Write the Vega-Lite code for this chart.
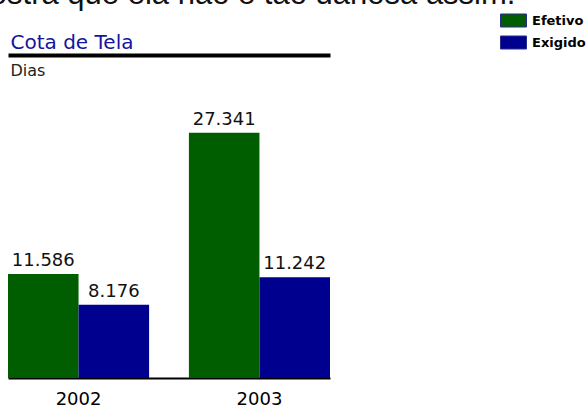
{
  "$schema": "https://vega.github.io/schema/vega-lite/v6.json",
  "width": 322,
  "height": 323,
  "autosize": {"type": "none"},
  "padding": {"left": 8, "top": 55, "right": 256, "bottom": 27},
  "background": "white",
  "title": {
    "text": "mostra que ela não é tão danosa assim.",
    "font": "Liberation Sans",
    "fontSize": 31,
    "fontWeight": "normal",
    "color": "#111111",
    "anchor": "start",
    "frame": "group",
    "baseline": "alphabetic",
    "dx": -44,
    "dy": 32
  },
  "data": {
    "values": [
      {"ano": "2002", "tipo": "Efetivo", "dias": 11586},
      {"ano": "2002", "tipo": "Exigido", "dias": 8176},
      {"ano": "2003", "tipo": "Efetivo", "dias": 27341},
      {"ano": "2003", "tipo": "Exigido", "dias": 11242}
    ]
  },
  "encoding": {
    "x": {
      "field": "ano",
      "type": "nominal",
      "scale": {"paddingInner": 0.22, "paddingOuter": 0}
    },
    "xOffset": {
      "field": "tipo",
      "type": "nominal",
      "scale": {"paddingInner": 0, "paddingOuter": 0}
    },
    "y": {
      "field": "dias",
      "type": "quantitative",
      "scale": {"domain": [0, 36000], "nice": false},
      "axis": {
        "domain": false,
        "ticks": false,
        "labels": false,
        "grid": false,
        "title": "Dias",
        "titleAngle": 0,
        "titleAlign": "left",
        "titleBaseline": "alphabetic",
        "titleX": 2,
        "titleY": 20,
        "titleFont": "DejaVu Sans",
        "titleFontSize": 16,
        "titleFontWeight": "normal",
        "titleColor": "#222222"
      }
    }
  },
  "layer": [
    {
      "mark": {"type": "bar"},
      "encoding": {
        "x": {
          "field": "ano",
          "type": "nominal",
          "axis": {
            "orient": "bottom",
            "domainColor": "#000000",
            "domainWidth": 2,
            "ticks": false,
            "grid": false,
            "labelAngle": 0,
            "labelFont": "DejaVu Sans",
            "labelFontSize": 18,
            "labelColor": "#000000",
            "labelPadding": 12,
            "title": null
          }
        },
        "color": {
          "field": "tipo",
          "type": "nominal",
          "scale": {"domain": ["Efetivo", "Exigido"], "range": ["#005e00", "#00008e"]},
          "legend": {
            "orient": "none",
            "legendX": 492,
            "legendY": -48,
            "title": null,
            "padding": 0,
            "symbolType": "M-1,-0.5H1V0.5H-1Z",
            "symbolSize": 676,
            "symbolStrokeWidth": 1,
            "symbolStrokeColor": "#2a2a8a",
            "symbolOpacity": 1,
            "labelFont": "DejaVu Sans",
            "labelFontSize": 13,
            "labelFontWeight": "bold",
            "labelColor": "#000000",
            "labelOffset": 5,
            "rowPadding": -10
          }
        }
      }
    },
    {
      "mark": {"type": "text", "baseline": "alphabetic", "dy": -8, "font": "DejaVu Sans", "fontSize": 18, "color": "#111111"},
      "encoding": {
        "x": {
          "field": "ano",
          "type": "nominal",
          "axis": {
            "orient": "top",
            "domainColor": "#000000",
            "domainWidth": 4,
            "ticks": false,
            "labels": false,
            "grid": false,
            "title": "Cota de Tela",
            "titleAnchor": "start",
            "titleAlign": "left",
            "titleBaseline": "alphabetic",
            "titleX": 2,
            "titleY": -7,
            "titleFont": "DejaVu Sans",
            "titleFontSize": 20,
            "titleFontWeight": "normal",
            "titleColor": "#1414a0"
          }
        },
        "text": {"field": "dias", "type": "quantitative", "format": ",.0f"}
      }
    }
  ],
  "resolve": {"axis": {"x": "independent"}},
  "config": {
    "view": {"stroke": null},
    "locale": {
      "number": {"decimal": ",", "thousands": ".", "grouping": [3], "currency": ["R$", ""]}
    }
  }
}
